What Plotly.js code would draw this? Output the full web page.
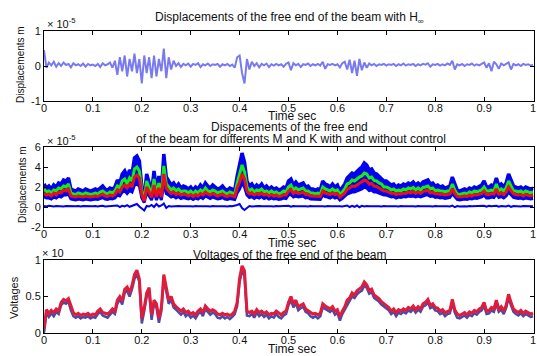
<!DOCTYPE html>
<html><head><meta charset="utf-8">
<script src="https://cdn.plot.ly/plotly-3.0.1.min.js"></script>
<style>html,body{margin:0;padding:0;background:#fff}#chart{width:537px;height:356px}</style>
</head><body><div id="chart"></div><script>
// sampling of the time axis (sec)
const time = []; for (let i = 0; i <= 200; i++) time.push(+(i * 0.005).toFixed(3));

const xTickVals = [0,0.1,0.2,0.3,0.4,0.5,0.6,0.7,0.8,0.9,1];
const xTickText = ['0','0.1','0.2','0.3','0.4','0.5','0.6','0.7','0.8','0.9','1'];

// Panel 1: displacement with H-infinity (x 1e-5 m)
const dispHinf = [0.45,-0.05,0.10,0.02,0.12,-0.02,0.08,0.00,0.10,0.03,
0.06,-0.04,0.08,0.02,0.05,0.00,0.07,-0.02,0.06,0.02,
0.04,0.00,0.06,-0.03,0.08,0.02,0.05,0.10,-0.05,0.15,
-0.25,0.25,-0.15,0.30,-0.30,0.20,-0.15,0.35,-0.20,0.20,
-0.50,0.30,-0.20,0.25,-0.35,0.30,-0.30,0.20,-0.15,0.50,
-0.35,0.25,-0.10,0.15,0.00,0.08,-0.03,0.06,0.02,0.07,
-0.02,0.06,0.03,0.08,-0.03,0.05,0.02,0.07,0.00,0.05,
0.03,0.06,-0.02,0.05,0.02,0.06,0.00,0.04,-0.05,0.25,
0.30,-0.20,-0.50,0.20,-0.10,0.12,0.00,0.08,-0.04,0.06,
0.02,0.07,-0.03,0.05,0.01,0.06,0.02,0.05,-0.02,0.06,
0.10,-0.12,0.08,0.02,0.06,-0.03,0.05,0.03,0.07,0.00,
0.05,0.02,0.06,0.01,0.12,-0.08,0.05,0.03,0.06,0.02,
0.05,-0.04,0.08,0.12,-0.10,0.18,-0.20,0.15,-0.28,0.20,
-0.12,0.10,-0.05,0.07,0.02,0.06,0.00,0.05,0.03,0.06,
0.01,0.05,0.03,0.06,0.00,0.05,0.02,0.07,0.01,0.05,
0.03,0.06,0.00,0.05,0.02,0.06,0.04,0.08,-0.02,0.05,
0.03,0.06,0.01,0.05,0.02,0.07,0.03,0.15,-0.10,0.05,
0.02,0.06,0.00,0.05,0.03,0.07,0.01,0.05,0.02,0.06,
0.10,-0.05,0.08,-0.15,0.12,0.05,-0.08,0.07,0.02,0.06,
0.10,-0.10,0.06,0.02,0.05,0.00,0.06,0.03,0.05,0.01,
0.04];

// Panel 2: displacements for different M and K (x 1e-5 m)
const dispBlueTop = [2.3,1.9,2.1,1.8,2.2,2.0,2.4,2.3,2.7,2.6,
2.9,1.8,1.7,1.6,1.8,1.7,1.6,1.8,1.7,1.6,
1.7,1.8,1.7,1.9,2.1,1.8,1.7,1.9,1.8,2.0,
2.7,2.4,3.3,3.6,3.0,3.7,3.3,4.9,5.1,4.6,
2.0,1.0,3.3,2.4,1.5,3.6,1.6,3.1,1.6,5.3,
3.0,2.6,2.2,2.4,2.0,2.3,1.9,2.1,2.0,1.8,
2.0,1.7,2.0,1.8,2.2,1.9,2.4,2.1,1.9,2.2,
2.0,1.8,1.9,2.1,1.8,1.7,1.9,1.8,1.7,3.1,
4.1,5.4,4.5,2.6,2.1,2.3,1.9,2.2,2.0,2.3,
1.9,2.1,1.8,2.0,1.8,1.9,1.7,1.8,2.0,1.9,
2.6,2.8,2.2,2.5,2.2,2.3,2.4,2.0,2.1,1.8,
1.8,1.7,1.8,1.7,2.6,2.3,2.2,2.0,2.3,2.0,
2.2,1.6,1.9,2.3,2.9,3.1,3.4,3.3,3.6,3.8,
4.0,4.4,4.2,3.7,3.8,3.4,3.3,3.1,2.9,2.6,
2.6,2.4,2.2,2.3,2.0,2.2,2.1,2.3,2.2,2.4,
2.3,2.5,2.2,2.4,2.2,2.5,2.6,2.7,2.3,2.4,
2.1,2.2,2.0,2.1,1.9,2.0,2.1,3.0,2.2,1.7,
1.6,1.7,1.8,1.7,1.9,1.8,2.0,1.9,2.1,2.2,
2.6,2.0,2.0,2.2,2.1,2.9,2.1,2.3,2.0,2.4,
3.3,2.7,2.1,2.0,1.9,2.0,1.8,2.0,1.9,1.8,
1.9];
const dispGreen = [1.8,1.5,1.6,1.4,1.7,1.6,1.9,1.8,2.1,2.0,
2.3,1.4,1.3,1.25,1.4,1.3,1.25,1.4,1.3,1.25,
1.3,1.4,1.3,1.5,1.6,1.4,1.3,1.5,1.4,1.6,
2.1,1.9,2.6,2.8,2.3,2.9,2.6,3.8,4.0,3.6,
1.6,0.8,2.6,1.9,1.2,2.8,1.25,2.4,1.25,4.1,
2.3,2.0,1.7,1.9,1.6,1.8,1.5,1.6,1.6,1.4,
1.6,1.3,1.6,1.4,1.7,1.5,1.9,1.6,1.5,1.7,
1.6,1.4,1.5,1.6,1.4,1.3,1.5,1.4,1.3,2.4,
3.2,4.2,3.5,2.0,1.6,1.8,1.5,1.7,1.6,1.8,
1.5,1.6,1.4,1.6,1.4,1.5,1.3,1.4,1.6,1.5,
2.0,2.2,1.7,1.9,1.7,1.8,1.9,1.6,1.6,1.4,
1.4,1.3,1.4,1.3,2.0,1.8,1.7,1.6,1.8,1.6,
1.7,1.25,1.5,1.8,2.3,2.4,2.7,2.6,2.8,3.0,
3.1,3.4,3.3,2.9,3.0,2.65,2.6,2.4,2.3,2.0,
2.0,1.9,1.7,1.8,1.6,1.7,1.6,1.8,1.7,1.9,
1.8,1.95,1.7,1.9,1.7,1.95,2.0,2.1,1.8,1.9,
1.6,1.7,1.6,1.6,1.5,1.6,1.6,2.3,1.7,1.3,
1.25,1.3,1.4,1.3,1.5,1.4,1.6,1.5,1.6,1.7,
2.0,1.6,1.6,1.7,1.6,2.3,1.6,1.8,1.6,1.9,
2.6,2.1,1.6,1.6,1.5,1.6,1.4,1.6,1.5,1.4,
1.5];
const dispRed = [1.4,1.2,1.3,1.1,1.4,1.2,1.5,1.4,1.7,1.6,
1.8,1.1,1.05,1.0,1.1,1.05,1.0,1.1,1.05,1.0,
1.05,1.1,1.05,1.2,1.3,1.1,1.05,1.2,1.1,1.25,
1.7,1.5,2.0,2.2,1.9,2.3,2.0,3.0,3.2,2.9,
1.25,0.6,2.0,1.5,0.95,2.2,1.0,1.9,1.0,3.3,
1.9,1.6,1.35,1.5,1.25,1.4,1.2,1.3,1.25,1.1,
1.25,1.05,1.25,1.1,1.35,1.2,1.5,1.3,1.2,1.35,
1.25,1.1,1.2,1.3,1.1,1.05,1.2,1.1,1.05,1.9,
2.5,3.3,2.8,1.6,1.3,1.4,1.2,1.35,1.25,1.4,
1.2,1.3,1.1,1.25,1.1,1.2,1.05,1.1,1.25,1.2,
1.6,1.75,1.35,1.55,1.35,1.4,1.5,1.25,1.3,1.1,
1.1,1.05,1.1,1.05,1.6,1.4,1.35,1.25,1.4,1.25,
1.35,1.0,1.2,1.4,1.8,1.9,2.1,2.05,2.2,2.35,
2.5,2.7,2.6,2.3,2.35,2.1,2.05,1.9,1.8,1.6,
1.6,1.5,1.35,1.4,1.25,1.35,1.3,1.4,1.35,1.5,
1.4,1.55,1.35,1.5,1.35,1.55,1.6,1.7,1.4,1.5,
1.3,1.35,1.25,1.3,1.2,1.25,1.3,1.85,1.35,1.05,
1.0,1.05,1.1,1.05,1.2,1.1,1.25,1.2,1.3,1.35,
1.6,1.25,1.25,1.35,1.3,1.8,1.3,1.4,1.25,1.5,
2.0,1.7,1.3,1.25,1.2,1.25,1.1,1.25,1.2,1.1,
1.2];
const dispBlueBottom = [1.0,0.9,0.9,0.8,1.0,0.9,1.1,1.0,1.2,1.2,
1.3,0.8,0.75,0.7,0.8,0.75,0.7,0.8,0.75,0.7,
0.75,0.8,0.75,0.85,0.95,0.8,0.75,0.85,0.8,0.9,
1.2,1.1,1.5,1.6,1.35,1.65,1.5,2.2,2.3,2.1,
0.9,0.45,1.5,1.1,0.7,1.6,0.7,1.4,0.7,2.4,
1.35,1.2,1.0,1.1,0.9,1.05,0.85,0.95,0.9,0.8,
0.9,0.75,0.9,0.8,1.0,0.85,1.1,0.95,0.85,1.0,
0.9,0.8,0.85,0.95,0.8,0.75,0.85,0.8,0.75,1.4,
1.8,2.4,2.0,1.2,0.95,1.05,0.85,1.0,0.9,1.05,
0.85,0.95,0.8,0.9,0.8,0.85,0.75,0.8,0.9,0.85,
1.2,1.25,1.0,1.1,1.0,1.05,1.1,0.9,0.95,0.8,
0.8,0.75,0.8,0.75,1.2,1.05,1.0,0.9,1.05,0.9,
1.0,0.7,0.85,1.05,1.3,1.4,1.5,1.5,1.6,1.7,
1.8,2.0,1.9,1.65,1.7,1.5,1.5,1.4,1.3,1.2,
1.2,1.1,1.0,1.05,0.9,1.0,0.95,1.05,1.0,1.1,
1.05,1.1,1.0,1.1,1.0,1.1,1.2,1.2,1.05,1.1,
0.95,1.0,0.9,0.95,0.85,0.9,0.95,1.35,1.0,0.75,
0.7,0.75,0.8,0.75,0.85,0.8,0.9,0.85,0.95,1.0,
1.2,0.9,0.9,1.0,0.95,1.3,0.95,1.05,0.9,1.1,
1.5,1.2,0.95,0.9,0.85,0.9,0.8,0.9,0.85,0.8,
0.85];
const dispControlled = [0.10,0.05,0.12,0.08,0.06,0.11,0.07,0.09,0.05,0.10,
0.08,0.06,0.11,0.07,0.09,0.05,0.10,0.08,0.06,0.11,
0.07,0.09,0.05,0.10,0.12,0.06,0.08,0.10,0.05,0.09,
0.15,0.00,0.12,0.05,0.18,0.02,0.10,0.20,0.30,0.05,
-0.15,-0.35,0.10,0.05,0.20,0.00,0.30,0.05,0.15,0.35,
-0.10,0.10,0.05,0.09,0.06,0.11,0.07,0.09,0.05,0.10,
0.08,0.06,0.11,0.07,0.09,0.05,0.10,0.08,0.06,0.11,
0.07,0.09,0.05,0.10,0.08,0.06,0.11,0.07,0.12,0.20,
0.30,-0.10,-0.30,-0.05,0.10,0.05,0.09,0.06,0.11,0.07,
0.09,0.05,0.10,0.08,0.06,0.11,0.07,0.09,0.05,0.10,
0.12,0.02,0.10,0.07,0.09,0.05,0.10,0.08,0.06,0.11,
0.07,0.09,0.05,0.10,0.08,0.06,0.11,0.07,0.09,0.05,
0.10,0.08,0.06,0.11,0.15,0.00,0.12,0.02,0.15,-0.02,
0.12,0.05,0.10,0.07,0.09,0.05,0.10,0.08,0.06,0.11,
0.07,0.09,0.05,0.10,0.08,0.06,0.11,0.07,0.09,0.05,
0.10,0.08,0.06,0.11,0.07,0.09,0.05,0.10,0.08,0.06,
0.11,0.07,0.09,0.05,0.10,0.08,0.06,0.15,-0.02,0.09,
0.05,0.10,0.08,0.06,0.11,0.07,0.09,0.05,0.10,0.08,
0.12,0.02,0.11,0.07,0.09,0.13,0.03,0.10,0.08,0.06,
0.14,0.01,0.10,0.07,0.09,0.05,0.10,0.08,0.06,0.11,
0.08];

// Panel 3: voltages (x 10)
const voltRed = [0.05,0.32,0.27,0.31,0.28,0.33,0.30,0.42,0.46,0.44,
0.47,0.36,0.28,0.25,0.27,0.24,0.26,0.25,0.27,0.24,
0.26,0.25,0.30,0.33,0.28,0.27,0.26,0.29,0.33,0.30,
0.45,0.50,0.44,0.60,0.63,0.55,0.65,0.80,0.86,0.74,
0.20,0.35,0.55,0.62,0.25,0.45,0.40,0.20,0.35,0.80,
0.60,0.45,0.50,0.40,0.36,0.33,0.30,0.33,0.28,0.30,
0.26,0.28,0.25,0.30,0.33,0.28,0.37,0.33,0.30,0.32,
0.30,0.26,0.25,0.27,0.25,0.26,0.24,0.26,0.30,0.42,
0.75,0.92,0.85,0.30,0.28,0.30,0.26,0.32,0.28,0.30,
0.27,0.29,0.25,0.27,0.26,0.30,0.27,0.25,0.28,0.30,
0.42,0.50,0.40,0.45,0.36,0.38,0.40,0.33,0.31,0.28,
0.26,0.27,0.25,0.27,0.40,0.37,0.35,0.33,0.36,0.30,
0.32,0.22,0.30,0.36,0.45,0.48,0.55,0.52,0.58,0.60,
0.63,0.70,0.66,0.58,0.60,0.52,0.50,0.47,0.43,0.40,
0.38,0.35,0.30,0.33,0.28,0.32,0.30,0.33,0.31,0.35,
0.33,0.37,0.32,0.36,0.33,0.40,0.42,0.46,0.38,0.40,
0.35,0.34,0.30,0.32,0.28,0.30,0.31,0.46,0.32,0.26,
0.24,0.26,0.28,0.25,0.29,0.27,0.31,0.29,0.33,0.35,
0.42,0.30,0.31,0.35,0.33,0.45,0.33,0.36,0.30,0.38,
0.53,0.42,0.33,0.30,0.28,0.31,0.27,0.30,0.28,0.26,
0.27];
const voltBlue = [0.00,0.28,0.22,0.27,0.23,0.29,0.26,0.38,0.42,0.40,
0.43,0.31,0.23,0.21,0.23,0.20,0.22,0.21,0.23,0.20,
0.22,0.21,0.26,0.29,0.24,0.22,0.21,0.25,0.29,0.26,
0.40,0.46,0.39,0.55,0.58,0.50,0.60,0.74,0.80,0.70,
0.13,0.30,0.50,0.56,0.18,0.40,0.35,0.14,0.30,0.74,
0.55,0.40,0.46,0.35,0.32,0.29,0.25,0.29,0.23,0.26,
0.21,0.24,0.20,0.26,0.29,0.23,0.33,0.29,0.25,0.28,
0.26,0.21,0.20,0.23,0.20,0.22,0.19,0.22,0.26,0.37,
0.70,0.85,0.78,0.24,0.23,0.26,0.21,0.28,0.23,0.26,
0.22,0.25,0.20,0.23,0.21,0.26,0.22,0.20,0.24,0.26,
0.38,0.45,0.35,0.41,0.31,0.34,0.36,0.29,0.27,0.23,
0.21,0.23,0.20,0.23,0.35,0.33,0.31,0.29,0.32,0.25,
0.28,0.17,0.26,0.32,0.40,0.44,0.50,0.48,0.53,0.56,
0.58,0.65,0.62,0.54,0.56,0.48,0.46,0.43,0.39,0.36,
0.34,0.31,0.26,0.29,0.23,0.28,0.26,0.29,0.27,0.31,
0.29,0.33,0.28,0.32,0.29,0.36,0.38,0.42,0.34,0.36,
0.31,0.30,0.26,0.28,0.23,0.26,0.27,0.41,0.28,0.21,
0.20,0.22,0.24,0.21,0.25,0.23,0.27,0.25,0.29,0.31,
0.37,0.26,0.27,0.31,0.29,0.40,0.29,0.32,0.26,0.34,
0.48,0.38,0.29,0.26,0.24,0.27,0.23,0.26,0.24,0.22,
0.23];

const FONT = 'Liberation Sans, Arial, sans-serif';
const traces = [
  {x: time, y: dispHinf, xaxis:'x', yaxis:'y', mode:'lines', line:{color:'#7a7af0', width:2}},
  {x: time, y: dispBlueBottom, xaxis:'x2', yaxis:'y2', mode:'lines', line:{color:'#0000f0', width:3}},
  {x: time, y: dispBlueTop, xaxis:'x2', yaxis:'y2', mode:'lines', line:{color:'#0000f0', width:3.5}, fill:'tonexty', fillcolor:'#0000f0'},
  {x: time, y: dispGreen, xaxis:'x2', yaxis:'y2', mode:'lines', line:{color:'#10f010', width:3}},
  {x: time, y: dispRed, xaxis:'x2', yaxis:'y2', mode:'lines', line:{color:'#e8101a', width:3}},
  {x: time, y: dispControlled, xaxis:'x2', yaxis:'y2', mode:'lines', line:{color:'#0000f0', width:2}},
  {x: time, y: voltBlue, xaxis:'x3', yaxis:'y3', mode:'lines', line:{color:'#4a4aa8', width:2.5}},
  {x: time, y: voltRed, xaxis:'x3', yaxis:'y3', mode:'lines', line:{color:'#e01c3c', width:3}}
];

const TICKFONT = {family:FONT, size:11, color:'#111'};
function xax(anchor){
  return {anchor: anchor, domain:[0,1], range:[0,1.002], tickvals:xTickVals, ticktext:xTickText,
    ticks:'inside', ticklen:4, tickcolor:'#000', showline:true, linecolor:'#000', linewidth:1, mirror:'ticks',
    showgrid:false, zeroline:false, tickfont:TICKFONT, ticklabeloverflow:'allow', ticklabelstandoff:-3};
}
function yax(anchor, dom, range, vals, text){
  return {anchor: anchor, domain:dom, range:range, tickvals:vals, ticktext:text,
    ticks:'inside', ticklen:4, tickcolor:'#000', showline:true, linecolor:'#000', linewidth:1, mirror:'ticks',
    showgrid:false, zeroline:false, tickfont:TICKFONT, ticklabeloverflow:'allow'};
}
const H = 356;
const py = px => 1 - px / H;
function ann(text, xpx, ypx, opts){
  return Object.assign({text:text, xref:'paper', yref:'paper', x:(xpx-44)/490, y:py(ypx),
    showarrow:false, xanchor:'center', yanchor:'middle', font:{family:FONT, size:12, color:'#111'}}, opts||{});
}
const layout = {
  width:537, height:356, margin:{l:44, r:3, t:0, b:0},
  paper_bgcolor:'#fff', plot_bgcolor:'#fff', showlegend:false,
  xaxis: xax('y'), yaxis: yax('x', [py(101), py(31)], [-1,1], [-1,0,1], ['-1','0','1']),
  xaxis2: xax('y2'), yaxis2: yax('x2', [py(227), py(147)], [-2,6], [-2,0,2,4,6], ['-2','0','2','4','6']),
  xaxis3: xax('y3'), yaxis3: yax('x3', [py(333), py(260)], [0,1], [0,0.5,1], ['0','0.5','1']),
  annotations: [
    ann('Displacements of the free end of the beam with H<sub>∞</sub>', 289, 18),
    ann('× 10<sup>-5</sup>', 61, 23, {font:{family:FONT, size:11, color:'#111'}}),
    ann('Displacements m', 20, 65, {textangle:-90, font:{family:FONT, size:10, color:'#111'}}),
    ann('Time sec', 292, 116),
    ann('Dispacements of the free end', 289, 127),
    ann('of the beam for differents M and K with and without control', 291, 139),
    ann('× 10<sup>-5</sup>', 61, 140, {font:{family:FONT, size:11, color:'#111'}}),
    ann('Displacements m', 22, 185, {textangle:-90, font:{family:FONT, size:10, color:'#111'}}),
    ann('Time sec', 292, 243),
    ann('Voltages of the free end of the beam', 289, 255),
    ann('× 10', 53, 253, {font:{family:FONT, size:11, color:'#111'}}),
    ann('Voltages', 14, 298, {textangle:-90, font:{family:FONT, size:11, color:'#111'}}),
    ann('Time sec', 292, 349)
  ]
};
Plotly.newPlot('chart', traces, layout, {staticPlot:true, displayModeBar:false});
</script></body></html>
